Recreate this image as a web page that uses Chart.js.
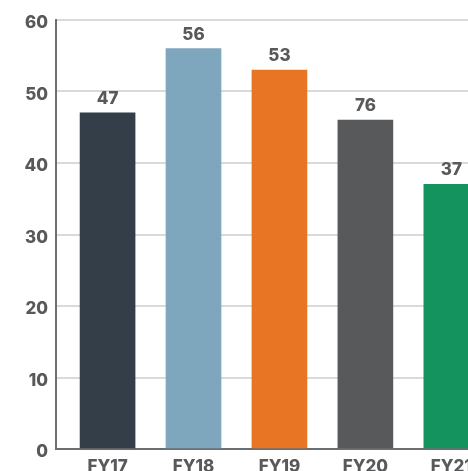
<!DOCTYPE html>
<html>
<head>
<meta charset="utf-8">
<script src="https://cdn.jsdelivr.net/npm/chart.js@4/dist/chart.umd.min.js"></script>
<style>
  html, body { margin: 0; padding: 0; background: #fff; }
  #wrap { width: 468px; height: 471px; overflow: hidden; position: relative; }
  #box { width: 500px; height: 485px; position: absolute; left: 0; top: 0; }
</style>
</head>
<body>
<div id="wrap"><div id="box"><canvas id="fyChart"></canvas></div></div>
<script>
// data
const categories = ["FY17", "FY18", "FY19", "FY20", "FY21"];
const values = [47, 56, 53, 46, 37];
const valueLabels = ["47", "56", "53", "76", "37"];
const barColors = ["#343e48", "#7ea6bc", "#e87524", "#58595b", "#14935f"];
const yTicks = [0, 10, 20, 30, 40, 50, 60];

const textColor = "#58595b";
const font = { family: "Inter", weight: 800, size: 17 };

// labels above each bar
const barLabels = {
  id: "barLabels",
  afterDatasetsDraw(chart) {
    const ctx = chart.ctx;
    const meta = chart.getDatasetMeta(0);
    ctx.save();
    ctx.fillStyle = textColor;
    ctx.font = "800 17px Inter";
    ctx.textAlign = "center";
    ctx.textBaseline = "alphabetic";
    meta.data.forEach((bar, i) => {
      ctx.fillText(valueLabels[i], bar.x, bar.y - 9);
    });
    ctx.restore();
  },
};

new Chart(document.getElementById("fyChart"), {
  type: "bar",
  data: {
    datasets: [
      {
        data: values.map((v, i) => ({ x: i, y: v })),
        backgroundColor: barColors,
        barThickness: 55,
      },
    ],
  },
  options: {
    responsive: true,
    maintainAspectRatio: false,
    animation: false,
    layout: { padding: { top: 20, right: 10, left: 0, bottom: 0 } },
    plugins: { legend: { display: false }, tooltip: { enabled: false } },
    scales: {
      x: {
        type: "linear",
        offset: false,
        min: -0.6,
        max: 4.45,
        afterBuildTicks: (scale) => {
          scale.ticks = categories.map((c, i) => ({ value: i }));
        },
        afterFit: (scale) => {
          scale.height = 36;
        },
        ticks: {
          color: textColor,
          font: font,
          padding: 0,
          callback: (v) => categories[v] || "",
        },
        grid: { display: false, offset: false },
        border: { color: "#6d6e70", width: 2 },
      },
      y: {
        min: 0,
        max: 60,
        afterBuildTicks: (scale) => {
          scale.ticks = yTicks.map((v) => ({ value: v }));
        },
        afterFit: (scale) => {
          scale.width = 56;
        },
        ticks: { color: textColor, font: font, padding: 8, labelOffset: 3 },
        grid: { color: "#d9d9d9", lineWidth: 2, drawTicks: false },
        border: { color: "#6d6e70", width: 2 },
      },
    },
  },
  plugins: [barLabels],
});
</script>
</body>
</html>
